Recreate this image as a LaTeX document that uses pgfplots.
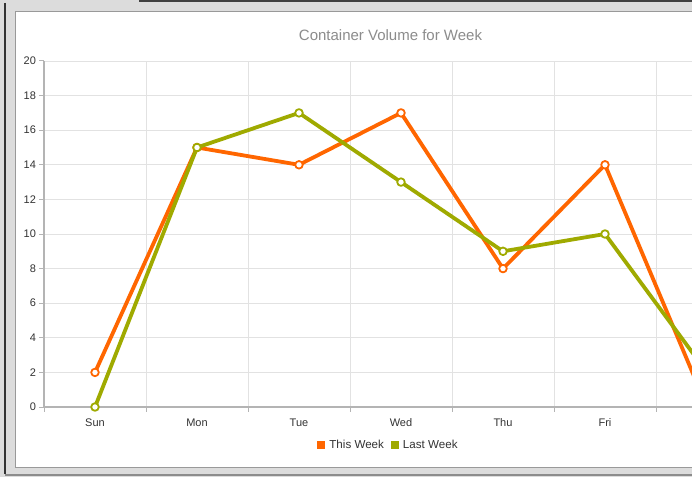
\documentclass[border=0pt]{standalone}
\usepackage{pgfplots}
\pgfplotsset{compat=1.18}
\usepackage{fontspec}
\setmainfont{Liberation Sans}
\definecolor{tw}{HTML}{FF6600}
\definecolor{lw}{HTML}{9FAA00}
\definecolor{gridc}{HTML}{E2E2E2}
\definecolor{axc}{HTML}{B4B4B4}
\definecolor{txt}{HTML}{333333}
\definecolor{ttl}{HTML}{8C8C8C}
\definecolor{bg}{HTML}{DCDCDC}
\begin{document}
\begin{tikzpicture}[x=1pt,y=1pt]
\path[use as bounding box] (0,0) rectangle (692,477);
\clip (0,0) rectangle (692,477);
\fill[bg] (0,0) rectangle (692,477);
\fill[black!75] (139,475) rectangle (692,477);
\draw[black!80, line width=1.5pt] (5,474) -- (5,3);
\draw[black!45, line width=1.2pt] (5,2) -- (692,2);
\fill[white] (15,10) rectangle (700,466);
\draw[black!40, line width=1.5pt] (15.5,9.5) -- (15.5,465.5) -- (700,465.5);
\draw[black!40, line width=1.5pt] (15.5,9.5) -- (700,9.5);
\node[text=ttl, font=\fontsize{15}{17}\selectfont] at (390.5,442) {Container Volume for Week};
\begin{axis}[
  at={(44pt,70pt)}, anchor=south west, scale only axis,
  width=648pt, height=346pt,
  xmin=-0.5, xmax=5.853, ymin=0, ymax=20, clip=false,
  axis x line*=bottom, axis y line*=left,
  axis line style={axc, line width=1.2pt},
  xtick={-0.5,0.5,1.5,2.5,3.5,4.5,5.5}, xticklabels={},
  ytick={0,2,...,20},
  xmajorgrids, ymajorgrids,
  grid style={gridc, line width=0.8pt},
  tick align=outside, major tick length=4.5pt,
  tick style={axc, line width=1pt},
  ticklabel style={font=\fontsize{11}{13}\selectfont, text=txt},
  /pgf/number format/assume math mode=true,
  extra x ticks={0,1,2,3,4,5},
  extra x tick labels={Sun,Mon,Tue,Wed,Thu,Fri},
  extra x tick style={grid=none, major tick length=0pt, tick style={draw=none}, xticklabel style={yshift=-8pt}},
  legend style={at={(0.5316,-0.111)}, anchor=center, legend columns=2,
    draw=none, fill=none, font=\fontsize{11.6}{13}\selectfont, text=txt,
    /tikz/every odd column/.append style={column sep=2pt},
    /tikz/every even column/.append style={column sep=5pt}},
  legend cell align=left,
]
\addplot[tw, line width=3.8pt, line join=round, mark=*, mark size=3.8pt,
  mark options={fill=white, draw=tw, line width=1.8pt},
  legend image code/.code={\fill[tw, draw=none] (0pt,-4pt) rectangle (8pt,4pt);}]
  coordinates {(0,2)(1,15)(2,14)(3,17)(4,8)(5,14)(6,0)};
\addlegendentry{This Week}
\addplot[lw, line width=3.8pt, line join=round, mark=*, mark size=3.8pt,
  mark options={fill=white, draw=lw, line width=1.8pt},
  legend image code/.code={\fill[lw, draw=none] (0pt,-4pt) rectangle (8pt,4pt);}]
  coordinates {(0,0)(1,15)(2,17)(3,13)(4,9)(5,10)(6,2)};
\addlegendentry{Last Week}
\end{axis}
\end{tikzpicture}
\end{document}
